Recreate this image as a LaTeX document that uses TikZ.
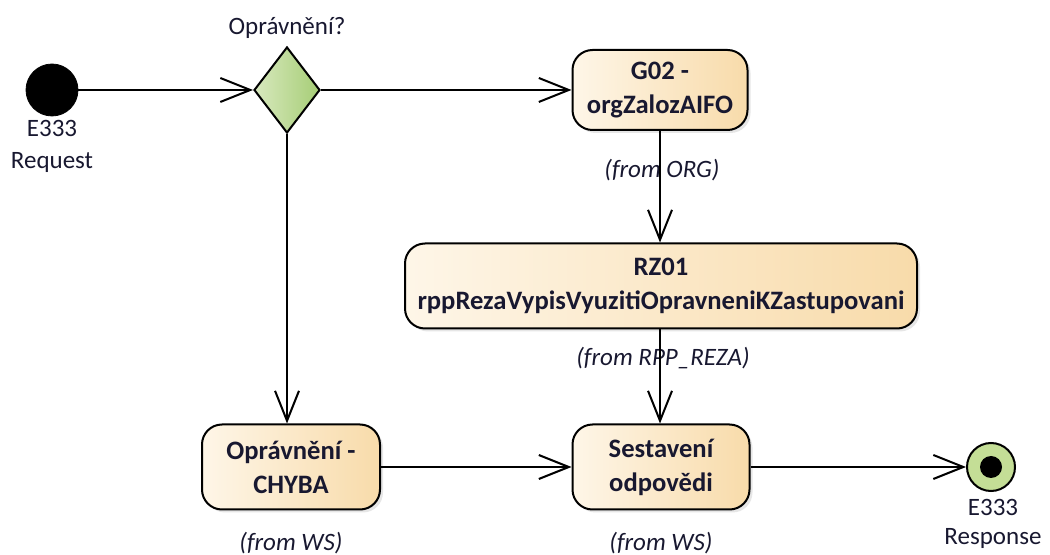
\documentclass[tikz,border=0pt]{standalone}
\usepackage{fontspec}
\setmainfont{Carlito}
\usetikzlibrary{positioning,arrows.meta,shapes.geometric,shadows}

\definecolor{boxL}{RGB}{254,246,232}
\definecolor{boxR}{RGB}{248,219,170}
\definecolor{decL}{RGB}{216,233,190}
\definecolor{decR}{RGB}{166,205,118}
\definecolor{finG}{RGB}{196,222,150}
\definecolor{txt}{RGB}{24,24,48}

\tikzset{
  act/.style={draw, line width=1pt, rounded corners=10pt, left color=boxL, right color=boxR,
    align=center, inner sep=0pt, text=txt, font=\fontsize{13.3}{17}\selectfont\bfseries,
    drop shadow={shadow xshift=1.5pt, shadow yshift=-1.5pt, opacity=0.2}},
  from/.style={text=txt, font=\fontsize{12.5}{14}\selectfont\itshape},
  lbl/.style={text=txt, align=center, font=\fontsize{12.5}{16}\selectfont},
  flow/.style={-{Straight Barb[length=15pt,width=12pt]}, line width=1pt},
}

\begin{document}
\begin{tikzpicture}[x=0.5pt,y=-0.5pt]
\useasboundingbox (0,0) rectangle (1050,555);
% start / decision
\node[circle, fill=black, draw, minimum size=26pt, inner sep=0pt] (start) at (52,90) {};
\node[lbl] (startlbl) at (52,146) {E333\\Request};
\node[diamond, draw, line width=1pt, left color=decL, right color=decR,
  minimum width=33pt, minimum height=43pt, inner sep=0pt] (opr) at (287,90) {};
\node[lbl] (oprlbl) at (287,28) {Oprávnění?};
% activities
\node[act, minimum width=87.5pt, minimum height=40pt] (g02) at (660,90) {G02 -\\orgZalozAIFO};
\node[from] (g02from) at (662,170) {(from ORG)};
\node[act, minimum width=256pt, minimum height=42.5pt] (rz01) at (661,286) {RZ01\\rppRezaVypisVyuzitiOpravneniKZastupovani};
\node[from] (rz01from) at (663,358) {(from RPP\_REZA)};
\node[act, minimum width=89pt, minimum height=42.5pt] (chyba) at (291,467) {Oprávnění -\\CHYBA};
\node[from] (chybafrom) at (291,543) {(from WS)};
\node[act, minimum width=88.5pt, minimum height=42.5pt] (sest) at (661,467) {Sestavení\\odpovědi};
\node[from] (sestfrom) at (661,543) {(from WS)};
% end
\node[circle, draw, line width=1pt, fill=finG, minimum size=24pt, inner sep=0pt] (fin) at (991,467) {};
\node[circle, fill=black, minimum size=11pt, inner sep=0pt] (findot) at (fin.center) {};
\node[lbl, font=\fontsize{12.5}{14.5}\selectfont] (finlbl) at (993,524) {E333\\Response};
% flows
\draw[flow] (start) -- (opr.west);
\draw[flow] (opr.east) -- (g02.west |- opr.east);
\draw[flow] (opr.south) -- (opr.south |- chyba.north);
\draw[flow] (g02.south) -- (g02.south |- rz01.north);
\draw[flow] (g02.south |- rz01.south) -- (g02.south |- sest.north);
\draw[flow] (chyba.east) -- (sest.west);
\draw[flow] (sest.east) -- (fin.west);
\end{tikzpicture}
\end{document}
